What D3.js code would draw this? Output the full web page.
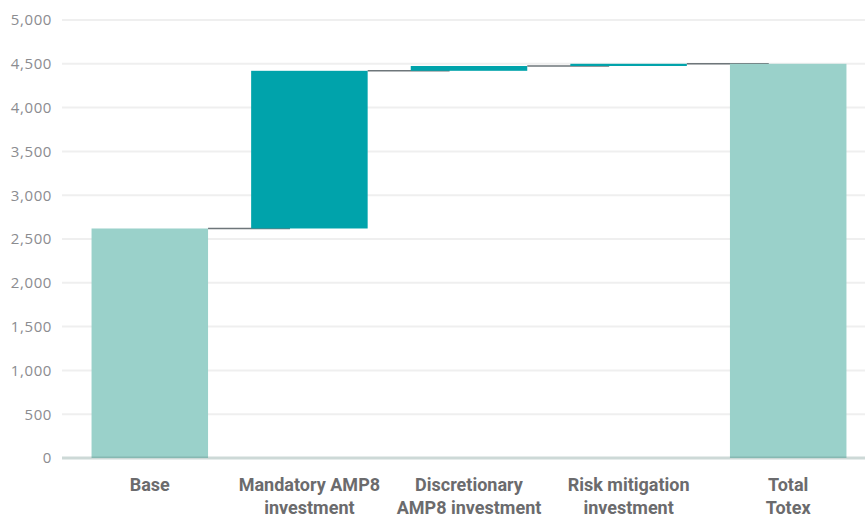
<!DOCTYPE html>
<html>
<head>
<meta charset="utf-8">
<script src="https://cdn.jsdelivr.net/npm/d3@7"></script>
<style>
  html, body { margin: 0; padding: 0; background: #fff; }
  svg { display: block; }
</style>
</head>
<body>
<svg id="chart" width="865" height="515"></svg>
<script>
// Totex build-up (£m): starting base, three investment steps, final total
const categories = ["Base", "Mandatory AMP8 investment", "Discretionary AMP8 investment", "Risk mitigation investment", "Total Totex"];
const labelLines = [["Base"], ["Mandatory AMP8", "investment"], ["Discretionary", "AMP8 investment"], ["Risk mitigation", "investment"], ["Total", "Totex"]];
const values = [2620, 1800, 55, 25, 4500];
const kinds = ["total", "step", "step", "step", "total"];
const yTicks = [0, 500, 1000, 1500, 2000, 2500, 3000, 3500, 4000, 4500, 5000];

const colors = { total: "#9ad1ca", step: "#00a3ab" };

const svg = d3.select("#chart");
const plot = { left: 62, right: 865, top: 20, bottom: 458 };

const x = d3.scaleBand()
  .domain(categories)
  .range([70, 868])
  .paddingInner(0.27)
  .paddingOuter(0.135);

const y = d3.scaleLinear().domain([0, 5000]).range([plot.bottom, plot.top]);

// running totals for each bar
let run = 0;
const bars = categories.map((c, i) => {
  let y0, y1;
  if (kinds[i] === "total") { y0 = 0; y1 = values[i]; run = values[i]; }
  else { y0 = run; y1 = run + values[i]; run = y1; }
  return { cat: c, y0, y1, kind: kinds[i] };
});

// gridlines
svg.append("g")
  .selectAll("line")
  .data(yTicks.filter(t => t > 0))
  .join("line")
  .attr("x1", plot.left).attr("x2", plot.right)
  .attr("y1", d => y(d)).attr("y2", d => y(d))
  .attr("stroke", "#efefef").attr("stroke-width", 2);

// y axis labels
const yAxis = svg.append("g")
  .attr("transform", `translate(${plot.left - 10},0)`)
  .call(d3.axisLeft(y).tickValues(yTicks).tickSize(0).tickPadding(0).tickFormat(d3.format(",")));
yAxis.select(".domain").remove();
yAxis.selectAll("text")
  .attr("fill", "#8b8c90")
  .style("font-family", "'Open Sans', sans-serif")
  .style("font-size", "15px")
  .style("letter-spacing", "0.6px");

// connectors between consecutive bars
svg.append("g")
  .selectAll("line")
  .data(bars.slice(0, -1))
  .join("line")
  .attr("x1", (d) => x(d.cat) + x.bandwidth())
  .attr("x2", (d, i) => x(categories[i + 1]) + x.bandwidth() / 3)
  .attr("y1", d => y(d.y1)).attr("y2", d => y(d.y1))
  .attr("stroke", "#6e767a").attr("stroke-width", 1.5);

// bars
svg.append("g")
  .selectAll("rect")
  .data(bars)
  .join("rect")
  .attr("x", d => x(d.cat))
  .attr("width", x.bandwidth())
  .attr("y", d => y(Math.max(d.y0, d.y1)))
  .attr("height", d => Math.abs(y(d.y0) - y(d.y1)))
  .attr("fill", d => colors[d.kind]);

// baseline
svg.append("line")
  .attr("x1", plot.left).attr("x2", plot.right)
  .attr("y1", y(0)).attr("y2", y(0))
  .attr("stroke", "#5b807b").attr("stroke-opacity", 0.3).attr("stroke-width", 3);

// category labels
const xAxis = svg.append("g")
  .attr("transform", `translate(0,${plot.bottom})`)
  .call(d3.axisBottom(x).tickSize(0).tickFormat(""));
xAxis.select(".domain").remove();
xAxis.selectAll(".tick text").remove();
xAxis.selectAll(".tick").each(function (d, i) {
  const t = d3.select(this).append("text")
    .attr("text-anchor", "middle")
    .attr("fill", "#6b6b6d")
    .style("font-family", "Roboto, sans-serif")
    .style("font-weight", "700")
    .style("font-size", "18px");
  labelLines[i].forEach((line, k) => {
    t.append("tspan").attr("x", 0).attr("y", 33 + k * 23).text(line);
  });
});
</script>
</body>
</html>
